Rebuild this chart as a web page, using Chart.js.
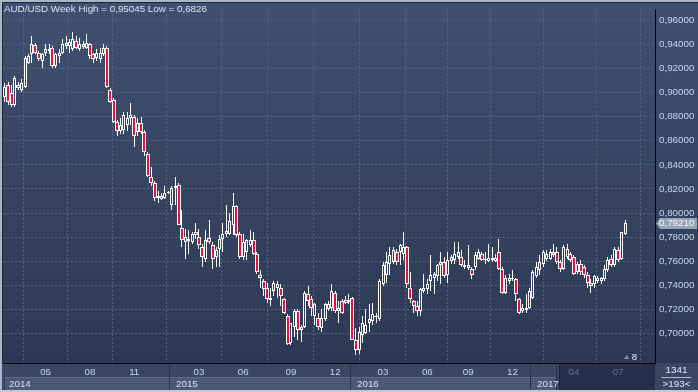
<!DOCTYPE html>
<html lang="en">
<head>
<meta charset="UTF-8">
<title>AUD/USD Week</title>
<script src="https://cdn.jsdelivr.net/npm/chart.js"></script>
<style>
    html, body { margin: 0; padding: 0; background: #2c3852; }
    #wrap { width: 698px; height: 392px; }
</style>
</head>
<body>
<div id="wrap"><canvas id="chart" width="698" height="392"></canvas></div>
<script>
// weekly AUD/USD candles (oldest first)
const openP = [
    .8962,.9059,.8994,.8897,.9059,.9019,.9043,.9246,.9320,.9393,
    .9328,.9263,.9328,.9344,.9368,.9222,.9303,.9328,.9385,.9385,
    .9360,.9425,.9360,.9376,.9368,.9401,.9320,.9287,.9279,.9320,
    .9368,.9019,.8937,.8759,.8677,.8693,.8734,.8791,.8799,.8669,
    .8750,.8669,.8490,.8303,.8246,.8124,.8116,.8124,.8165,.8068,
    .8206,.8230,.7880,.7759,.7767,.7759,.7840,.7799,.7718,.7620,
    .7791,.7734,.7637,.7702,.7783,.7824,.7824,.7905,.8059,.7824,
    .7637,.7677,.7734,.7775,.7661,.7490,.7433,.7376,.7279,.7352,
    .7376,.7376,.7287,.7149,.6921,.7051,.7190,.7027,.7051,.7328,
    .7287,.7149,.7133,.7043,.7124,.7206,.7214,.7336,.7190,.7271,
    .7279,.7276,.7295,.6946,.6864,.6986,.7002,.7084,.7108,.7149,
    .7124,.7409,.7490,.7580,.7596,.7677,.7677,.7661,.7718,.7376,
    .7271,.7230,.7190,.7352,.7368,.7433,.7458,.7474,.7572,.7596,
    .7490,.7604,.7612,.7637,.7637,.7555,.7547,.7539,.7555,.7620,
    .7661,.7612,.7604,.7612,.7604,.7677,.7539,.7336,.7433,.7450,
    .7450,.7287,.7190,.7198,.7214,.7295,.7474,.7531,.7580,.7620,
    .7620,.7653,.7677,.7596,.7539,.7637,.7661,.7637,.7515,.7580,
    .7555,.7490,.7417,.7409,.7433,.7433,.7450,.7531,.7620,.7572,
    .7694,.7620,.7824
];
const highP = [
    .9076,.9084,.9059,.9141,.9084,.9116,.9303,.9320,.9466,.9409,
    .9344,.9328,.9401,.9401,.9385,.9328,.9360,.9441,.9466,.9441,
    .95045,.9466,.9450,.9425,.9482,.9409,.9328,.9360,.9368,.9401,
    .9385,.9035,.8954,.8775,.8791,.8840,.8840,.8913,.8815,.8791,
    .8799,.8693,.8507,.8385,.8263,.8181,.8165,.8222,.8181,.8222,
    .8303,.8246,.8027,.7864,.7856,.7840,.7921,.7864,.7742,.7856,
    .7946,.7759,.7718,.7815,.7921,.8068,.8002,.8165,.8068,.7840,
    .7824,.7783,.7856,.7840,.7677,.7531,.7450,.7417,.7376,.7433,
    .7433,.7409,.7295,.7165,.7092,.7206,.7206,.7068,.7352,.7393,
    .7311,.7255,.7173,.7206,.7255,.7271,.7409,.7352,.7271,.7287,
    .7311,.7328,.7300,.7043,.7051,.7149,.7206,.7246,.7255,.7173,
    .7450,.7596,.7677,.7718,.7718,.7702,.7742,.7840,.7726,.7515,
    .7279,.7271,.7376,.7498,.7450,.7653,.7515,.7580,.7677,.7637,
    .7677,.7653,.7759,.7759,.7694,.7612,.7734,.7555,.7677,.7702,
    .7677,.7677,.7742,.7718,.7661,.7783,.7555,.7490,.7498,.7531,
    .7458,.7295,.7246,.7328,.7376,.7531,.7596,.7653,.7694,.7694,
    .7702,.7742,.7718,.7612,.7734,.7742,.7677,.7653,.7596,.7612,
    .7572,.7515,.7450,.7482,.7474,.7466,.7572,.7637,.7653,.7718,
    .7718,.7840,.7946
];
const lowP = [
    .8921,.8897,.8880,.8880,.9019,.9002,.9035,.9238,.9246,.9320,
    .9263,.9206,.9303,.9320,.9206,.9206,.9246,.9320,.9360,.9328,
    .9344,.9360,.9344,.9360,.9360,.9279,.9246,.9263,.9246,.9303,
    .9035,.8913,.8750,.8637,.8653,.8653,.8677,.8734,.8547,.8637,
    .8653,.8474,.8303,.8222,.8100,.8084,.8108,.8116,.8157,.8027,
    .8068,.7897,.7718,.7620,.7661,.7742,.7783,.7702,.7555,.7596,
    .7742,.7539,.7555,.7555,.7677,.7799,.7815,.7815,.7799,.7620,
    .7612,.7612,.7718,.7653,.7498,.7376,.7311,.7255,.7230,.7311,
    .7295,.7230,.7165,.6905,.6905,.6970,.6946,.6929,.7043,.7230,
    .7149,.7068,.7027,.7011,.7108,.7190,.7190,.7173,.7092,.7165,
    .7246,.7246,.6946,.6826,.6832,.6921,.6994,.7011,.7068,.7092,
    .7108,.7393,.7417,.7490,.7580,.7572,.7572,.7612,.7376,.7255,
    .7173,.7149,.7149,.7336,.7328,.7352,.7328,.7433,.7409,.7458,
    .7417,.7580,.7580,.7620,.7555,.7539,.7531,.7450,.7531,.7612,
    .7604,.7580,.7596,.7596,.7596,.7531,.7328,.7328,.7409,.7433,
    .7271,.7165,.7173,.7173,.7206,.7287,.7458,.7490,.7555,.7604,
    .7612,.7637,.7580,.7515,.7531,.7620,.7596,.7490,.7498,.7490,
    .7458,.7376,.7336,.7376,.7417,.7409,.7433,.7515,.7555,.7555,
    .7596,.7612,.7815
];
const closeP = [
    .9043,.8921,.8897,.9124,.9035,.9076,.9287,.9303,.9401,.9328,
    .9279,.9320,.9360,.9360,.9222,.9320,.9328,.9401,.9409,.9417,
    .9441,.9368,.9401,.9401,.9409,.9303,.9279,.9328,.9328,.9368,
    .9043,.8921,.8759,.8677,.8734,.8815,.8791,.8815,.8637,.8750,
    .8669,.8507,.8311,.8246,.8124,.8141,.8141,.8165,.8173,.8206,
    .8222,.7905,.7775,.7799,.7783,.7824,.7815,.7734,.7637,.7775,
    .7759,.7620,.7694,.7783,.7824,.7848,.7937,.8059,.7815,.7637,
    .7759,.7775,.7775,.7661,.7515,.7458,.7368,.7287,.7295,.7417,
    .7409,.7311,.7173,.6913,.7084,.7190,.7027,.7051,.7336,.7271,
    .7214,.7246,.7051,.7133,.7246,.7246,.7352,.7190,.7214,.7173,
    .7255,.7258,.6950,.6864,.7011,.7084,.7068,.7124,.7165,.7141,
    .7433,.7572,.7596,.7653,.7694,.7596,.7734,.7718,.7409,.7287,
    .7230,.7190,.7368,.7376,.7409,.7490,.7498,.7572,.7596,.7474,
    .7612,.7637,.7661,.7677,.7572,.7572,.7572,.7490,.7653,.7677,
    .7612,.7620,.7628,.7628,.7628,.7539,.7336,.7458,.7458,.7458,
    .7328,.7173,.7214,.7214,.7352,.7515,.7555,.7596,.7677,.7661,
    .7677,.7677,.7596,.7539,.7718,.7702,.7612,.7498,.7580,.7515,
    .7490,.7417,.7393,.7474,.7458,.7458,.7539,.7612,.7572,.7702,
    .7612,.7840,.7921
];

// axis labels (month ticks sit on the week where the month starts)
const monthWeeks  = [12, 25, 38, 57, 70, 84, 97, 111, 124, 136, 149, 167, 180];
const monthLabels = ['05', '08', '11', '03', '06', '09', '12', '03', '06', '09', '12', '04', '07'];
const yearWeeks   = [0, 49, 102, 155];
const yearLabels  = ['2014', '2015', '2016', '2017'];
const priceTicks  = [0.70, 0.72, 0.74, 0.76, 0.78, 0.80, 0.82, 0.84, 0.86, 0.88, 0.90, 0.92, 0.94, 0.96];
const emptyBars   = 8;
const titleText   = 'AUD/USD Week High = 0,95045 Low = 0,6826';

const FONT_FAMILY = "'Liberation Sans', Arial, sans-serif";
const FONT_SIZE = 9.8;
const FONT = FONT_SIZE + 'px ' + FONT_FAMILY;
const RED = '#e8103c';
const shadeFrom = 163;   // dimmed part of the time axis

let bgGrad = null;
function background(ctx) {
    if (!bgGrad) {
        bgGrad = ctx.createLinearGradient(0, 0, 0, 392);
        bgGrad.addColorStop(0, '#405070');
        bgGrad.addColorStop(0.93, '#2d3954');
        bgGrad.addColorStop(1, '#2b3650');
    }
    return bgGrad;
}

const fmt = v => v.toFixed(5).replace('.', ',');

// snap candle elements to whole pixels so the thin bars stay sharp
const crisp = {
    id: 'crisp',
    beforeDatasetsDraw(chart) {
        chart.data.datasets.forEach((ds, i) => {
            chart.getDatasetMeta(i).data.forEach(el => {
                el.x = ds.barThickness % 2 ? Math.floor(el.x) + 0.5 : Math.round(el.x);
                el.y = Math.round(el.y);
                el.base = Math.round(el.base);
            });
        });
    }
};

const decor = {
    id: 'decor',
    beforeDraw(chart) {
        const { ctx, width, height, chartArea: a } = chart;
        const x = chart.scales.x;
        ctx.save();
        ctx.fillStyle = background(ctx);
        ctx.fillRect(0, 0, width, height);

        // time axis panel
        ctx.fillStyle = '#3a4764';
        ctx.fillRect(0, a.bottom, width, height - a.bottom);
        // year boxes
        const shadeX = x.getPixelForValue(shadeFrom - 0.5);
        yearWeeks.forEach((w, i) => {
            const x0 = Math.round(x.getPixelForValue(w - 0.5)) + (i === 0 ? 2 : 0);
            const x1 = i < yearWeeks.length - 1 ? Math.round(x.getPixelForValue(yearWeeks[i + 1] - 0.5)) : Math.round(shadeX) - 2;
            ctx.fillStyle = '#4b5976';
            ctx.fillRect(x0, 377, x1 - x0 - 1, 13);
            ctx.fillStyle = '#5f6d8a';
            ctx.fillRect(x0, 377, x1 - x0 - 1, 1);
            ctx.fillStyle = '#2a3449';
            ctx.fillRect(x1 - 1, 364, 1, 26);
        });
        // dimmed tail of the time axis
        ctx.fillStyle = '#26304a';
        ctx.fillRect(Math.round(shadeX), a.bottom + 1, a.right - Math.round(shadeX), 26);
        ctx.fillStyle = '#1c2436';
        ctx.fillRect(Math.round(shadeX), a.bottom + 1, 1, 26);

        // corner box
        ctx.fillStyle = '#3a4764';
        ctx.fillRect(a.right + 1, a.bottom + 1, width - a.right - 1, height - a.bottom - 1);
        ctx.restore();
    },
    afterDraw(chart) {
        const { ctx, width, height, chartArea: a } = chart;
        const x = chart.scales.x, y = chart.scales.y;
        ctx.save();
        ctx.font = FONT;
        ctx.textBaseline = 'middle';

        // frame
        ctx.fillStyle = '#aab6ca';
        ctx.fillRect(0, 0, width, 2);
        ctx.fillRect(0, 0, 2, height);
        ctx.fillStyle = '#c3cad6';
        ctx.fillRect(0, height - 2, width, 2);
        ctx.fillStyle = '#1d2536';
        ctx.fillRect(2, 2, width - 2, 1);
        ctx.fillRect(2, 2, 1, a.bottom - 2);

        // title
        ctx.textAlign = 'left';
        ctx.fillStyle = '#dce5f4';
        ctx.fillText(titleText, 4, 9);

        // year labels
        ctx.fillStyle = '#d6e0f0';
        yearWeeks.forEach((w, i) => {
            ctx.fillText(yearLabels[i], Math.round(x.getPixelForValue(w - 0.5)) + 6, 384);
        });

        // last price tag
        const last = closeP[closeP.length - 1];
        const py = Math.round(y.getPixelForValue(last)) + 0.5;
        ctx.fillStyle = '#9aa3b3';
        ctx.beginPath();
        ctx.moveTo(a.right + 1, py);
        ctx.lineTo(a.right + 5, py - 5.5);
        ctx.lineTo(width - 1, py - 5.5);
        ctx.lineTo(width - 1, py + 5.5);
        ctx.lineTo(a.right + 5, py + 5.5);
        ctx.closePath();
        ctx.fill();
        ctx.fillStyle = '#f4f7ff';
        ctx.fillText(fmt(last), a.right + 4, py);

        // shift marker
        const mx = x.getPixelForValue(closeP.length - 0.5);
        ctx.fillStyle = '#7b89a4';
        ctx.beginPath();
        ctx.moveTo(mx - 3, 359);
        ctx.lineTo(mx, 355);
        ctx.lineTo(mx + 3, 359);
        ctx.closePath();
        ctx.fill();
        ctx.fillStyle = '#e4ebf7';
        ctx.fillText(String(emptyBars), mx + 5, 357);

        // corner counters
        ctx.textAlign = 'center';
        ctx.fillStyle = '#e4ebf7';
        const cx = (a.right + width) / 2;
        ctx.fillText(String(1341), cx, 370);
        ctx.fillText('>' + (closeP.length + emptyBars + 2) + '<', cx, 384);
        ctx.fillStyle = '#aeb9cc';
        ctx.fillRect(cx - 15, 377, 30, 1);
        ctx.restore();
    }
};

const weeks = closeP.map((c, i) => i);
const upWeeks = weeks.filter(i => closeP[i] >= openP[i]);
const downWeeks = weeks.filter(i => closeP[i] < openP[i]);

const bodyStyle = { borderColor: '#ffffff', borderWidth: 1, borderSkipped: false, inflateAmount: 0, grouped: false };

new Chart(document.getElementById('chart'), {
    type: 'bar',
    data: {
        datasets: [
            Object.assign({
                label: 'up',
                data: upWeeks.map(i => ({ x: i, y: [openP[i], closeP[i]] })),
                backgroundColor: c => background(c.chart.ctx),
                barThickness: 3
            }, bodyStyle),
            Object.assign({
                label: 'down',
                data: downWeeks.map(i => ({ x: i, y: [closeP[i], openP[i]] })),
                backgroundColor: RED,
                barThickness: 4
            }, bodyStyle),
            {
                label: 'wick',
                data: weeks.map(i => ({ x: i, y: [lowP[i], highP[i]] })),
                backgroundColor: '#ffffff',
                borderWidth: 0,
                barThickness: 1,
                inflateAmount: 0,
                grouped: false
            }
        ]
    },
    options: {
        responsive: false,
        animation: false,
        events: [],
        layout: { padding: { left: 3, top: 3, right: 0, bottom: 0 } },
        plugins: { legend: { display: false }, tooltip: { enabled: false } },
        scales: {
            x: {
                type: 'linear',
                min: -0.5,
                max: closeP.length + emptyBars - 0.2,
                offset: false,
                afterBuildTicks: s => { s.ticks = monthWeeks.map(v => ({ value: v })); },
                afterFit: s => { s.height = 29; },
                ticks: {
                    autoSkip: false,
                    maxRotation: 0,
                    padding: 3,
                    callback: (v, i) => monthLabels[i],
                    color: c => c.index >= 11 ? '#607092' : '#c6d7f2',
                    font: { family: FONT_FAMILY, size: FONT_SIZE }
                },
                grid: { color: '#56647f', lineWidth: 1, drawTicks: false },
                border: { display: true, color: '#000000', width: 1, dash: [2, 2] }
            },
            y: {
                position: 'right',
                min: 0.67561,
                max: 0.96854,
                afterBuildTicks: s => { s.ticks = priceTicks.map(v => ({ value: v })); },
                afterFit: s => { s.width = 43; },
                ticks: {
                    padding: 4,
                    callback: v => fmt(v),
                    color: '#c6d7f2',
                    font: { family: FONT_FAMILY, size: FONT_SIZE }
                },
                grid: { color: '#56647f', lineWidth: 1, drawTicks: false },
                border: { display: true, color: '#000000', width: 1, dash: [2, 2] }
            }
        }
    },
    plugins: [decor, crisp]
});
</script>
</body>
</html>
